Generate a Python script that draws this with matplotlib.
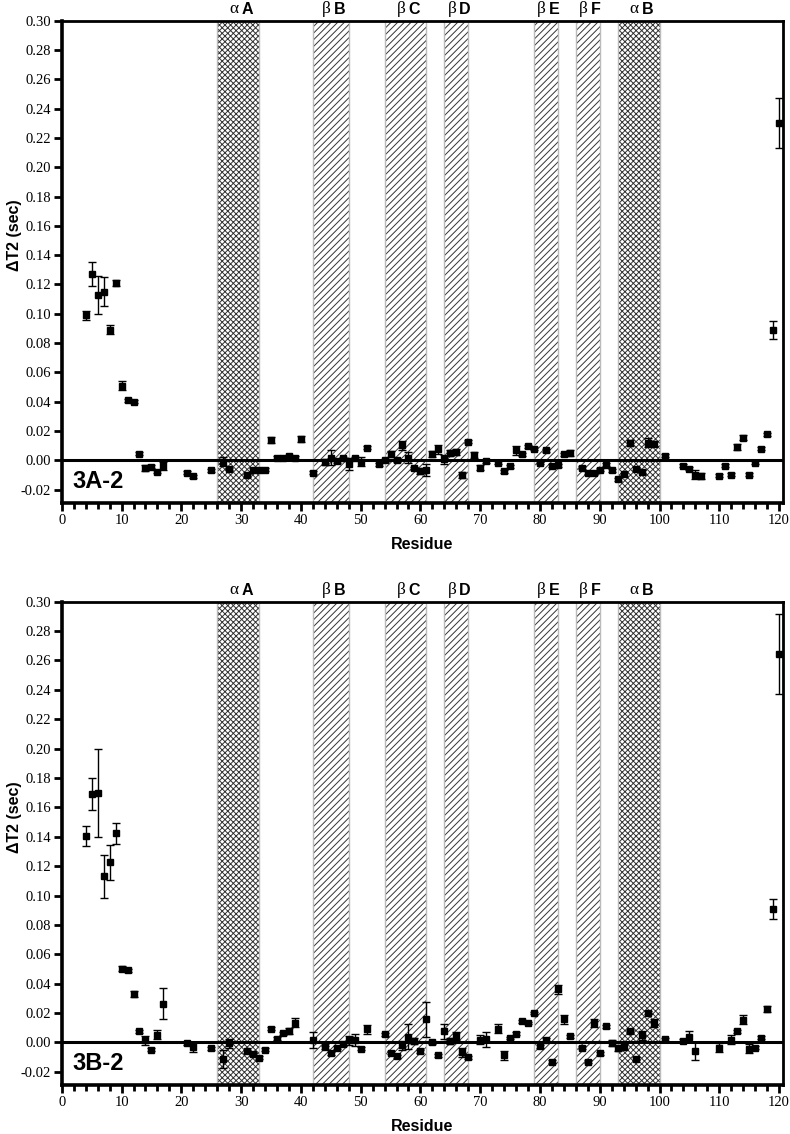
import matplotlib
matplotlib.use('Agg')
import matplotlib.pyplot as plt
from matplotlib.ticker import MultipleLocator, FormatStrFormatter

plt.rcParams['hatch.linewidth'] = 0.7
plt.rcParams['axes.unicode_minus'] = False

# ---- secondary structure regions ----
region_greek = ['α', 'β', 'β', 'β', 'β', 'β', 'α']
region_letter = ['A', 'B', 'C', 'D', 'E', 'F', 'B']
region_start = [26, 42, 54, 64, 79, 86, 93]
region_end = [33, 48, 61, 68, 83, 90, 100]

x_ticks = list(range(0, 121, 10))
y_ticks = [-0.02, 0.00, 0.02, 0.04, 0.06, 0.08, 0.10, 0.12, 0.14, 0.16, 0.18, 0.20,
           0.22, 0.24, 0.26, 0.28, 0.30]

# ---- panel 3A-2 ----
res_a = [4, 5, 6, 7, 8, 9, 10, 11, 12, 13, 14, 15, 16, 17,
         21, 22, 25, 27, 28,
         31, 32, 33, 34,
         35, 36, 37, 38, 39, 40,
         42,
         44, 45, 46, 47, 48, 49, 50, 51,
         53, 54, 55, 56, 57, 58, 59, 60, 61, 62, 63, 64, 65, 66, 67, 68, 69, 70, 71,
         73, 74, 75, 76, 77, 78, 79, 80, 81, 82, 83, 84, 85,
         87, 88, 89, 90, 91, 92, 93, 94, 95, 96, 97, 98, 99,
         101,
         104, 105, 106, 107,
         110, 111, 112, 113, 114, 115, 116, 117, 118, 119, 120]
val_a = [0.099, 0.127, 0.113, 0.115, 0.089, 0.121, 0.051, 0.041, 0.040, 0.0045, -0.0055, -0.0046, -0.0078, -0.004,
         -0.0086, -0.011, -0.007, -0.001, -0.006,
         -0.0102, -0.0066, -0.0064, -0.0066,
         0.0136, 0.0018, 0.0015, 0.0027, 0.0016, 0.0143,
         -0.0086,
         -0.001, 0.0018, -0.0007, 0.0014, -0.0027, 0.0014, -0.001, 0.0084,
         -0.0027, 0.0, 0.004, 0.0, 0.0102, 0.0018, -0.0055, -0.0073, -0.0068, 0.004, 0.0075, 0.0005, 0.005, 0.0055, -0.010, 0.0125, 0.0034, -0.005, -0.0007,
         -0.0016, -0.0077, -0.0041, 0.0068, 0.004, 0.0095, 0.0079, -0.0018, 0.0068, -0.0039, -0.0034, 0.004, 0.0048,
         -0.005, -0.0086, -0.0086, -0.0064, -0.003, -0.0068, -0.013, -0.0095, 0.0118, -0.0057, -0.008, 0.012, 0.0114,
         0.003,
         -0.0039, -0.0057, -0.010, -0.0105,
         -0.0105, -0.0039, -0.0098, 0.009, 0.0155, -0.0098, -0.0018, 0.0079, 0.0177, 0.089, 0.230]
err_a = [0.003, 0.008, 0.013, 0.010, 0.003, 0.002, 0.003, 0.001, 0.001, 0.001, 0.002, 0.001, 0.001, 0.003,
         0.001, 0.001, 0.001, 0.003, 0.001,
         0.001, 0.001, 0.001, 0.001,
         0.002, 0.001, 0.001, 0.001, 0.001, 0.002,
         0.001,
         0.002, 0.005, 0.001, 0.001, 0.004, 0.001, 0.003, 0.001,
         0.001, 0.001, 0.002, 0.001, 0.003, 0.004, 0.001, 0.002, 0.004, 0.002, 0.003, 0.003, 0.002, 0.002, 0.002, 0.001, 0.002, 0.002, 0.001,
         0.001, 0.001, 0.001, 0.003, 0.001, 0.001, 0.001, 0.001, 0.001, 0.001, 0.001, 0.001, 0.002,
         0.001, 0.001, 0.001, 0.001, 0.001, 0.001, 0.001, 0.001, 0.002, 0.001, 0.001, 0.003, 0.002,
         0.001,
         0.001, 0.001, 0.003, 0.002,
         0.001, 0.001, 0.001, 0.002, 0.002, 0.001, 0.001, 0.001, 0.001, 0.006, 0.017]

# ---- panel 3B-2 ----
res_b = [4, 5, 6, 7, 8, 9, 10, 11, 12, 13, 14, 15, 16, 17,
         21, 22, 25, 27, 28,
         31, 32, 33, 34, 35, 36, 37, 38, 39,
         42,
         44, 45, 46, 47, 48, 49, 50, 51,
         54, 55, 56, 57, 58, 59, 60, 61, 62, 63, 64, 65, 66, 67, 68,
         70, 71,
         73, 74, 75, 76, 77, 78, 79, 80, 81, 82, 83, 84, 85,
         87, 88, 89, 90, 91, 92, 93, 94, 95, 96, 97, 98, 99,
         101,
         104, 105, 106,
         110,
         112, 113, 114, 115, 116, 117, 118, 119, 120]
val_b = [0.1405, 0.169, 0.170, 0.113, 0.1225, 0.1423, 0.0502, 0.049, 0.0332, 0.0077, 0.0014, -0.005, 0.0052, 0.0264,
         -0.0005, -0.0032, -0.0039, -0.0114, -0.0005,
         -0.006, -0.008, -0.0105, -0.005, 0.0093, 0.0025, 0.0063, 0.0077, 0.0134,
         0.0014,
         -0.0032, -0.0073, -0.0036, -0.0014, 0.0014, 0.0018, -0.0043, 0.0089,
         0.0055, -0.007, -0.0095, -0.002, 0.004, 0.001, -0.006, 0.0157, 0.0002, -0.0089, 0.0075, 0.001, 0.0043, -0.0066, -0.010,
         0.0018, 0.002,
         0.0093, -0.0089, 0.003, 0.0058, 0.0145, 0.0132, 0.020, -0.0025, 0.0018, -0.013, 0.0361, 0.0157, 0.0043,
         -0.0036, -0.013, 0.0132, -0.0073, 0.0109, -0.0005, -0.0036, -0.0025, 0.0077, -0.011, 0.0048, 0.0202, 0.0132,
         0.002,
         0.001, 0.004, -0.006,
         -0.0036,
         0.0018, 0.0077, 0.0155, -0.0043, -0.0036, 0.0032, 0.0225, 0.0907, 0.2645]
err_b = [0.007, 0.011, 0.030, 0.0145, 0.012, 0.0073, 0.0015, 0.001, 0.002, 0.001, 0.003, 0.001, 0.003, 0.0107,
         0.001, 0.003, 0.001, 0.006, 0.003,
         0.001, 0.001, 0.001, 0.001, 0.001, 0.001, 0.001, 0.002, 0.003,
         0.0055,
         0.001, 0.001, 0.001, 0.001, 0.003, 0.004, 0.001, 0.003,
         0.001, 0.001, 0.001, 0.003, 0.0085, 0.002, 0.001, 0.0117, 0.001, 0.001, 0.005, 0.002, 0.003, 0.003, 0.001,
         0.003, 0.005,
         0.003, 0.003, 0.001, 0.001, 0.001, 0.001, 0.001, 0.001, 0.001, 0.001, 0.003, 0.003, 0.001,
         0.001, 0.001, 0.003, 0.001, 0.001, 0.002, 0.002, 0.003, 0.001, 0.001, 0.003, 0.001, 0.003,
         0.001,
         0.001, 0.004, 0.006,
         0.003,
         0.003, 0.001, 0.003, 0.003, 0.001, 0.001, 0.002, 0.007, 0.027]

assert len(res_a) == len(val_a) == len(err_a)
assert len(res_b) == len(val_b) == len(err_b)

SERIF = ['Liberation Serif', 'DejaVu Serif']
SANS = ['Liberation Sans', 'DejaVu Sans']

fig = plt.figure(figsize=(7.9, 11.34), dpi=100)
ax_a = fig.add_axes([0.0782, 0.5567, 0.9125, 0.4250])
ax_b = fig.add_axes([0.0782, 0.0432, 0.9125, 0.4262])


def draw_panel(ax, res, val, err, tag):
    ax.set_xlim(0, 120.6)
    ax.set_ylim(-0.029, 0.30)
    for g, l, s, e in zip(region_greek, region_letter, region_start, region_end):
        hatch = 'xxxxxx' if g == 'α' else '/////'
        ax.axvspan(s, e, facecolor='white', edgecolor='#333333', hatch=hatch,
                   linewidth=0, zorder=0)
        ax.axvspan(s, e, facecolor='none', edgecolor='#bbbbbb', linewidth=1.0, zorder=0.5)
        c = (s + e) / 2.0
        ax.text(c, 1.008, g, transform=ax.get_xaxis_transform(), ha='right', va='bottom',
                fontsize=12.5, family=SERIF)
        ax.text(c + 0.5, 1.008, l, transform=ax.get_xaxis_transform(), ha='left', va='bottom',
                fontsize=11.5, fontweight='bold', family=SANS)
    ax.axhline(0, color='black', lw=2.2, zorder=2)
    ax.errorbar(res, val, yerr=err, fmt='s', color='black', ms=4.5, capsize=2.6,
                elinewidth=1.0, capthick=1.0, zorder=3)
    for side in ['left', 'bottom']:
        ax.spines[side].set_linewidth(2.6)
    for side in ['top', 'right']:
        ax.spines[side].set_linewidth(2.0)
    ax.set_xticks(x_ticks)
    ax.xaxis.set_minor_locator(MultipleLocator(2))
    ax.set_yticks(y_ticks)
    ax.yaxis.set_major_formatter(FormatStrFormatter('%.2f'))
    ax.tick_params(axis='both', which='major', direction='out', length=6, width=2,
                   labelsize=10.5, pad=2)
    ax.tick_params(axis='x', which='minor', direction='out', length=4, width=2)
    for lab in ax.get_xticklabels() + ax.get_yticklabels():
        lab.set_family(SERIF)
    ax.set_xlabel('Residue', fontsize=11.5, fontweight='bold', family=SANS, labelpad=7)
    ax.set_ylabel('ΔT2 (sec)', fontsize=11.5, fontweight='bold', family=SANS)
    ax.yaxis.set_label_coords(-0.066, 0.555)
    ax.yaxis.label.set_verticalalignment('center')
    ax.text(0.015, 0.02, tag, transform=ax.transAxes, fontsize=17, fontweight='bold',
            family=['Liberation Sans Narrow', 'Liberation Sans', 'DejaVu Sans'],
            ha='left', va='bottom', zorder=5)


draw_panel(ax_a, res_a, val_a, err_a, '3A-2')
draw_panel(ax_b, res_b, val_b, err_b, '3B-2')

fig.savefig('out.png', dpi=100)
